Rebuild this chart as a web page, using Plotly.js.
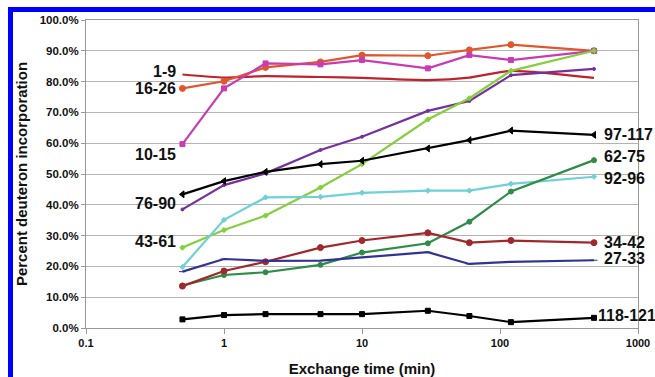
<!DOCTYPE html>
<html>
<head>
<meta charset="utf-8">
<script src="https://cdn.plot.ly/plotly-3.0.1.min.js"></script>
<style>
  html, body { margin: 0; padding: 0; background: #ffffff; }
  #wrap { position: relative; width: 655px; height: 377px; overflow: hidden; }
  #frame { position: absolute; left: 8px; top: 7px; width: 660px; height: 380px;
           border-top: 5px solid #0000ff; border-left: 5px solid #0000ff; box-sizing: border-box; }
  #chart { position: absolute; left: 0; top: 0; width: 655px; height: 377px; }
</style>
</head>
<body>
<div id="wrap">
  <div id="frame"></div>
  <div id="chart"></div>
</div>
<script>
// Exchange times (min)
const times = [0.5, 1, 2, 5, 10, 30, 60, 120, 480];

// Percent deuteron incorporation per peptide (fraction)
const p1_9     = [0.823, 0.813, 0.818, 0.815, 0.812, 0.805, 0.813, 0.835, 0.812];
const p16_26   = [0.778, 0.801, 0.846, 0.864, 0.886, 0.884, 0.903, 0.920, 0.900];
const p10_15   = [0.597, 0.778, 0.859, 0.856, 0.870, 0.843, 0.886, 0.870, 0.900];
const p76_90   = [0.385, 0.464, 0.502, 0.578, 0.621, 0.705, 0.737, 0.821, 0.841];
const p43_61   = [0.261, 0.318, 0.365, 0.456, 0.532, 0.677, 0.746, 0.835, 0.900];
const p97_117  = [0.434, 0.477, 0.507, 0.532, 0.543, 0.583, 0.610, 0.641, 0.627];
const p92_96   = [0.198, 0.351, 0.424, 0.426, 0.439, 0.446, 0.446, 0.468, 0.491];
const p62_75   = [0.138, 0.172, 0.181, 0.205, 0.245, 0.275, 0.345, 0.443, 0.545];
const p34_42   = [0.136, 0.185, 0.215, 0.261, 0.284, 0.309, 0.277, 0.284, 0.277];
const p27_33   = [0.183, 0.224, 0.218, 0.219, 0.229, 0.246, 0.208, 0.215, 0.220];
const p118_121 = [0.028, 0.042, 0.045, 0.045, 0.045, 0.056, 0.039, 0.019, 0.033];

const seriesNames = ["1-9", "16-26", "10-15", "76-90", "43-61", "97-117",
                     "92-96", "62-75", "34-42", "27-33", "118-121"];
const seriesValues = [p1_9, p16_26, p10_15, p76_90, p43_61, p97_117,
                      p92_96, p62_75, p34_42, p27_33, p118_121];

const xTickVals = [0.1, 1, 10, 100, 1000];
const xTickText = ["0.1", "1", "10", "100", "1000"];

// styles
const styles = [
  {color: "#c0222c", symbol: "circle", size: 0, shape: "spline"},
  {color: "#e2562c", symbol: "circle", size: 6, shape: "linear"},
  {color: "#c93bb3", symbol: "square", size: 5, shape: "linear"},
  {color: "#7530a0", symbol: "circle", size: 3, shape: "linear"},
  {color: "#84cf3c", symbol: "diamond", size: 4, shape: "linear"},
  {color: "#000000", symbol: "triangle-left", size: 6, shape: "linear"},
  {color: "#6fd0d6", symbol: "diamond", size: 4, shape: "linear"},
  {color: "#2e8c46", symbol: "circle", size: 5, shape: "linear"},
  {color: "#a0282c", symbol: "circle", size: 6, shape: "linear"},
  {color: "#313394", symbol: "line-ew", size: 5, shape: "linear"},
  {color: "#000000", symbol: "square", size: 5, shape: "linear"}
];

// label placement: side and shifts in px
const labelSide  = ["left", "left", "left", "left", "left", "right",
                    "right", "right", "right", "right", "right"];
const labelShift = [3, 0, -10, 6, 6, 0, -2, 4, 0, 2, 2];
const labelX     = [-4, -4, -4, -4, -4, 8, 8, 8, 8, 8, 2];

const traces = seriesValues.map((vals, i) => ({
  x: times, y: vals, type: "scatter",
  mode: styles[i].size > 0 ? "lines+markers" : "lines",
  name: seriesNames[i],
  line: {color: styles[i].color, width: 2.2, shape: styles[i].shape, smoothing: 0.6},
  marker: {color: styles[i].color, symbol: styles[i].symbol, size: styles[i].size,
           line: {color: styles[i].color, width: 1}},
  showlegend: false, hoverinfo: "skip"
}));

const annotations = seriesValues.map((vals, i) => {
  const left = labelSide[i] === "left";
  const idx = left ? 0 : vals.length - 1;
  return {
    x: Math.log10(times[idx]), y: vals[idx], xref: "x", yref: "y",
    text: seriesNames[i], showarrow: false,
    xanchor: left ? "right" : "left", yanchor: "middle",
    xshift: labelX[i], yshift: labelShift[i],
    font: {family: "Liberation Sans, Arial, sans-serif", size: 16, color: "#111111", weight: "bold"}
  };
});

const layout = {
  width: 655, height: 377,
  margin: {l: 86, r: 17, t: 20, b: 49},
  paper_bgcolor: "rgba(0,0,0,0)",
  plot_bgcolor: "#ffffff",
  font: {family: "Liberation Sans, Arial, sans-serif", color: "#111111"},
  xaxis: {
    type: "log", range: [-1, 3],
    tickvals: xTickVals, ticktext: xTickText,
    ticks: "outside", ticklen: 5, tickcolor: "#999999",
    showgrid: false, zeroline: false,
    showline: true, linecolor: "#999999", linewidth: 1, mirror: true,
    tickfont: {size: 11, weight: "bold", color: "#111111"},
    title: {text: "Exchange time (min)", font: {size: 15, weight: "bold", color: "#111111"}, standoff: 15},
    automargin: false
  },
  yaxis: {
    range: [0, 1], dtick: 0.1, tickformat: ".1%",
    ticks: "outside", ticklen: 4, tickcolor: "#999999",
    showgrid: true, gridcolor: "#b4b4b4", gridwidth: 1, zeroline: false,
    showline: true, linecolor: "#999999", linewidth: 1, mirror: true,
    tickfont: {size: 11.5, weight: "bold", color: "#111111"},
    title: {text: "Percent deuteron incorporation", font: {size: 15, weight: "bold", color: "#111111"}, standoff: 8},
    automargin: false
  },
  annotations: annotations
};

Plotly.newPlot("chart", traces, layout, {staticPlot: true, displayModeBar: false});
</script>
</body>
</html>
